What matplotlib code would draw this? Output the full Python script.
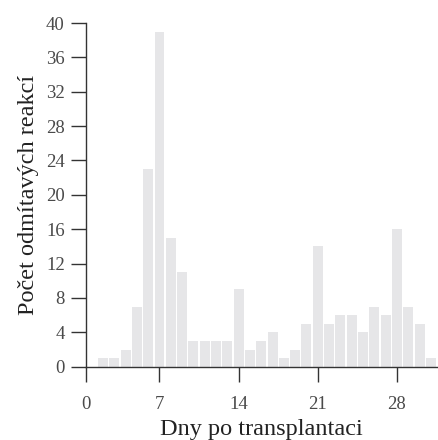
import matplotlib
matplotlib.use("Agg")
import matplotlib.pyplot as plt

# pocet odmitavych reakci podle dne po transplantaci
days = list(range(2, 32))
counts = [1, 1, 2, 7, 23, 39, 15, 11, 3, 3, 3, 3, 9, 2, 3,
          4, 1, 2, 5, 14, 5, 6, 6, 4, 7, 6, 16, 7, 5, 1]
x_ticks = [0.5, 7, 14, 21, 28]
x_tick_labels = ["0", "7", "14", "21", "28"]
y_ticks = list(range(0, 41, 4))

plt.rcParams['font.family'] = ['Liberation Serif', 'DejaVu Serif']

fig = plt.figure(figsize=(4.38, 4.40), dpi=100)
ax = fig.add_axes([0.1963, 0.1666, 0.8003, 0.7811])

ax.bar(days, counts, width=0.88, color='#e6e6e8', edgecolor='none', zorder=1)

ax.set_xlim(0.5, 31.5)
ax.set_ylim(0, 40)
ax.set_xticks(x_ticks)
ax.set_xticklabels(x_tick_labels)
ax.set_yticks(y_ticks)

for side in ['top', 'right']:
    ax.spines[side].set_visible(False)
for side in ['left', 'bottom']:
    ax.spines[side].set_color('#333333')
    ax.spines[side].set_linewidth(1.0)
    ax.spines[side].set_zorder(3)

ax.tick_params(axis='both', direction='out', length=10.8, width=1.0,
               color='#333333', labelcolor='#4a4a4a', labelsize=13.5)
ax.tick_params(axis='x', pad=10.5)
ax.tick_params(axis='y', pad=4.5)

ax.set_xlabel('Dny po transplantaci', fontsize=17.5, color='#222222', labelpad=4)
ax.set_ylabel('Počet odmítavých reakcí', fontsize=17.5, color='#222222', labelpad=5)

fig.savefig('out.png', dpi=100)
